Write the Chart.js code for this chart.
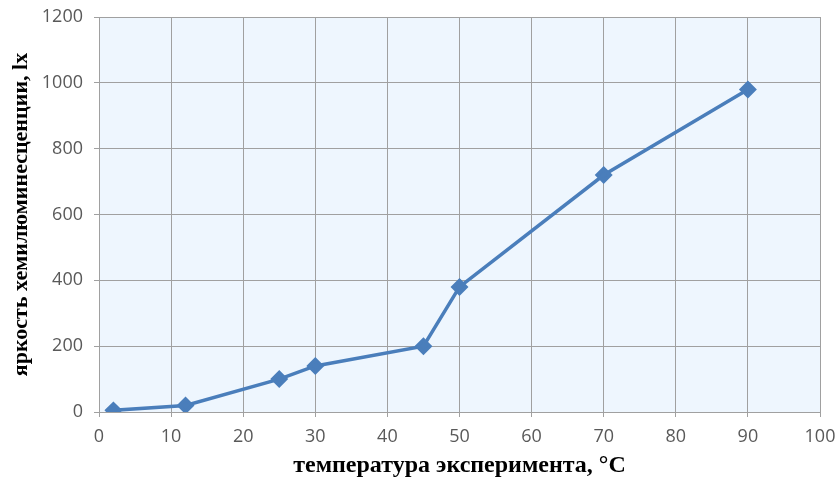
<!DOCTYPE html>
<html>
<head>
<meta charset="utf-8">
<script src="https://cdn.jsdelivr.net/npm/chart.js@4/dist/chart.umd.min.js"></script>
<style>
  html, body { margin: 0; padding: 0; background: #fff; }
  #wrap { width: 837px; height: 481px; }
</style>
</head>
<body>
<div id="wrap"><canvas id="chart" width="837" height="481"></canvas></div>
<script>
const temperatures = [2, 12, 25, 30, 45, 50, 70, 90];
const brightness = [5, 20, 100, 140, 200, 380, 720, 980];
const xTitle = 'температура эксперимента, °С';
const yTitle = 'яркость хемилюминесценции, lx';

const plotBackground = {
    id: 'plotBackground',
    beforeDraw(chart) {
        const { ctx, chartArea } = chart;
        ctx.save();
        ctx.fillStyle = '#EEF6FE';
        ctx.fillRect(chartArea.left, chartArea.top, chartArea.right - chartArea.left, chartArea.bottom - chartArea.top);
        ctx.restore();
    }
};

const ctx = document.getElementById('chart').getContext('2d');

new Chart(ctx, {
    type: 'scatter',
    data: {
        datasets: [{
            data: temperatures.map((t, i) => ({ x: t, y: brightness[i] })),
            showLine: true,
            borderColor: '#4A7EBB',
            backgroundColor: '#4A7EBB',
            borderWidth: 3.5,
            pointStyle: 'rectRot',
            pointRadius: 6.5,
            pointHoverRadius: 6.5
        }]
    },
    options: {
        responsive: false,
        animation: false,
        layout: { padding: { top: 17, right: 17, left: 0, bottom: 0 } },
        plugins: {
            legend: { display: false },
            tooltip: { enabled: false }
        },
        scales: {
            x: {
                type: 'linear',
                min: 0,
                max: 100,
                ticks: {
                    stepSize: 10, color: '#595959', padding: 9,
                    font: { family: 'Open Sans', size: 18 },
                    callback: v => String(v)
                },
                grid: { color: '#A0A0A0', tickLength: 5 },
                border: { color: '#A0A0A0' },
                title: {
                    display: true,
                    text: xTitle,
                    color: '#000',
                    font: { family: 'Liberation Serif', size: 24, weight: 'bold' },
                    padding: { top: 2, bottom: 1 }
                },
                afterFit(scale) {
                    scale.height = 69;
                    scale.paddingLeft = 0;
                    scale.paddingRight = 0;
                }
            },
            y: {
                min: 0,
                max: 1200,
                ticks: {
                    stepSize: 200, color: '#595959', padding: 11,
                    font: { family: 'Open Sans', size: 18 },
                    callback: v => String(v)
                },
                grid: { color: '#A0A0A0', tickLength: 5 },
                border: { color: '#A0A0A0' },
                title: {
                    display: true,
                    text: yTitle,
                    color: '#000',
                    font: { family: 'Liberation Serif', size: 22, weight: 'bold' },
                    padding: { top: 8, bottom: 4 }
                },
                afterFit(scale) {
                    scale.width = 99;
                    scale.paddingTop = 0;
                    scale.paddingBottom = 0;
                }
            }
        }
    },
    plugins: [plotBackground]
});
</script>
</body>
</html>
